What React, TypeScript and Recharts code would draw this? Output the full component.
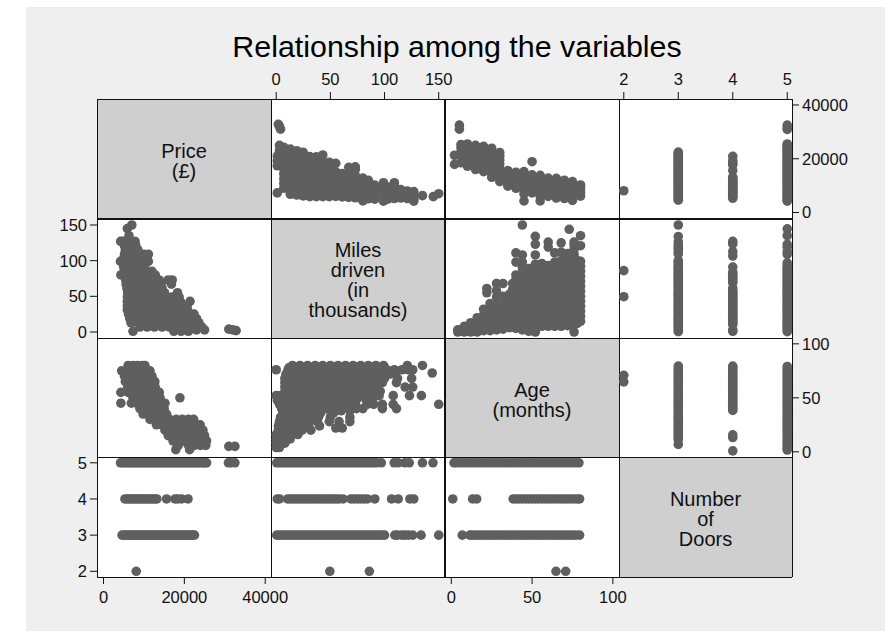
import { ScatterChart, Scatter, XAxis, YAxis } from 'recharts';

const FONT = '"Liberation Sans", Arial, sans-serif';
const DOT = '#5f5f5f';
const DOT_R = 4.8;

// tick labels
const priceTicks = [0, 20000, 40000];
const milesTicks = [0, 50, 100, 150];
const ageTicks = [0, 50, 100];
const doorTicks = [2, 3, 4, 5];

// axis ranges, same for a variable in its row and column except for pixel rounding
const priceXDomain = [-1605, 41430];
const priceYDomain = [-2037, 42220];
const milesXDomain = [-4.8, 155.8];
const milesYDomain = [-8.4, 159.8];
const ageXDomain = [-3.9, 103.8];
const ageYDomain = [-4.8, 105.4];
const doorXDomain = [1.912, 5.087];
const doorYDomain = [1.842, 5.161];

const priceAtMiles: [number, number[]][] = [
  [1, [7300, 17400, 19200, 21000]],
  [2, [32800]],
  [3, [32000, 23000, 25000]],
  [4, [31000]],
  [7, [9000, 10800, 12600, 14500, 16300, 18200, 20100, 22000, 24300]],
  [13, [6800, 8600, 10400, 12300, 14100, 15900, 17800, 19700, 21600, 23600]],
  [19, [6500, 8300, 10100, 12000, 13800, 15700, 17500, 19400, 21300, 23000]],
  [25, [6200, 8100, 9900, 11800, 13600, 15500, 17300, 19200, 21000, 22400]],
  [31, [5900, 7800, 9700, 11500, 13400, 15200, 17100, 19000, 20800]],
  [37, [5900, 7700, 9600, 11400, 13300, 15100, 17000, 18900, 20700]],
  [43, [5900, 7800, 9600, 11500, 13300, 15200, 17000, 19000, 21400]],
  [49, [5900, 7700, 9500, 11300, 13200, 15000, 16900, 18700]],
  [55, [6000, 7800, 9600, 11400, 13300, 15100, 18300]],
  [61, [5800, 7600, 9500, 11300, 13100, 14500]],
  [67, [5600, 7400, 9300, 11100, 13000, 14200, 16800]],
  [73, [5500, 7300, 9200, 11000, 12900, 13800, 16000, 17000]],
  [80, [4300, 5400, 7200, 9000, 10900, 12800]],
  [85, [5100, 6900, 8800, 10500, 12000]],
  [91, [5000, 6800, 8600, 10200]],
  [99, [4200, 4900, 6700, 8500, 9800, 11100]],
  [103, [5000, 6800, 8600, 9500]],
  [109, [5200, 7000, 8800, 10000, 11100]],
  [115, [5400, 7000, 8500]],
  [121, [5200, 6900, 8000]],
  [127, [4250, 4900, 6500, 7800]],
  [135, [6300]],
  [145, [5900]],
  [150, [7000]],
];

const priceAtAge: [number, number[]][] = [
  [80, [6100, 7300, 8500, 9600, 10250]],
  [75, [4500, 6000, 7200, 8400, 9600, 10700, 11500]],
  [70, [5200, 6400, 7600, 8800, 10000, 11200, 12000]],
  [65, [5400, 6700, 7900, 9200, 10400, 11600, 12700]],
  [60, [6000, 7300, 8500, 9800, 11000, 12200, 12800]],
  [55, [4300, 6100, 7400, 8600, 9900, 11100, 12400, 13800]],
  [50, [7300, 8500, 9700, 11000, 12200, 13400, 14000, 18900]],
  [45, [4300, 6900, 8200, 9400, 10600, 11900, 13100, 14400, 15200]],
  [40, [9000, 10300, 11500, 12700, 14000, 15000]],
  [35, [9800, 11000, 12300, 13500, 14800, 15600]],
  [30, [11500, 12700, 14000, 15200, 16400, 18000, 19500, 21000, 22300]],
  [25, [13100, 14500, 15800, 17200, 18500, 19800, 21100, 22600, 23900]],
  [20, [15200, 16600, 18000, 19300, 20700, 22000, 23300, 24600]],
  [15, [16000, 17500, 19000, 20300, 21700, 23000, 24300, 25000]],
  [10, [17200, 18600, 20000, 21500, 22800, 24000, 25500]],
  [6, [18500, 21000, 22500, 24000, 25300]],
  [5, [31000, 32500]],
  [2, [17900, 21300]],
];

const milesAtAge: [number, number[]][] = [
  [80, [15, 22, 29, 36, 43, 50, 57, 64, 71, 78, 85, 92, 99, 121, 135]],
  [78, [12, 20, 30, 40, 52, 62, 74, 86, 100]],
  [76, [0, 11, 18, 25, 32, 39, 46, 53, 60, 67, 74, 81, 88, 95, 102, 109, 116, 122, 126]],
  [73, [144]],
  [72, [9, 16, 23, 30, 37, 44, 51, 58, 65, 72, 79, 86, 93, 100, 105, 110]],
  [68, [8, 15, 22, 29, 36, 43, 50, 57, 64, 71, 78, 85, 92, 100, 112, 125]],
  [64, [8, 15, 22, 29, 36, 43, 50, 57, 64, 71, 78, 85, 92, 98, 111]],
  [60, [8, 15, 22, 29, 36, 43, 50, 57, 64, 71, 78, 85, 93, 119, 126]],
  [56, [8, 15, 22, 29, 36, 43, 50, 57, 64, 71, 78, 85, 90, 96]],
  [52, [0, 4, 9, 16, 23, 30, 37, 44, 51, 58, 65, 72, 79, 89, 95, 108, 123, 134]],
  [48, [1, 4, 11, 18, 25, 32, 39, 46, 53, 60, 67, 74, 83, 89]],
  [44, [3, 10, 17, 24, 31, 38, 45, 52, 59, 66, 73, 84, 90, 98, 108, 150]],
  [40, [5, 12, 19, 26, 33, 40, 47, 54, 61, 68, 74, 80, 98, 111]],
  [38, [7, 15, 24, 33, 42, 52, 60, 68]],
  [36, [6, 13, 20, 27, 34, 41, 51, 53]],
  [32, [4, 11, 18, 25, 32, 39, 50, 68]],
  [28, [3, 10, 17, 24, 31, 38, 49, 58, 68]],
  [24, [2, 9, 16, 23, 30, 40]],
  [22, [55, 61]],
  [20, [2, 9, 16, 24, 32]],
  [16, [0, 6, 13, 20]],
  [12, [0, 6, 13]],
  [8, [0, 4, 8]],
  [4, [0, 3]],
];

// values seen at each number of doors
const priceByDoors: [number, number[]][] = [
  [2, [8100]],
  [3, [4600, 5100, 5600, 6100, 6600, 7100, 7600, 8100, 8600, 9100, 9600, 10100, 10600, 11100, 11600, 12100, 12600, 13100, 13600, 14100, 14600, 15100, 15600, 16100, 16600, 17100, 17600, 18100, 18600, 19100, 19600, 20100, 20600, 21100, 21600, 22000, 22500]],
  [4, [5300, 5800, 6300, 6800, 7300, 7800, 8300, 8800, 9300, 9800, 10300, 10800, 11300, 11800, 12300, 12800, 13200, 15600, 17700, 18400, 19300, 20900]],
  [5, [4200, 4700, 5200, 5700, 6200, 6700, 7200, 7700, 8200, 8700, 9200, 9700, 10200, 10700, 11200, 11700, 12200, 12700, 13200, 13700, 14200, 14700, 15200, 15700, 16200, 16700, 17200, 17700, 18200, 18700, 19200, 19700, 20200, 20700, 21200, 21700, 22200, 22700, 23200, 23700, 24200, 24700, 25100, 25500, 30900, 31500, 32500]],
];
const milesByDoors: [number, number[]][] = [
  [2, [49.5, 86]],
  [3, [0.5, 3, 5.5, 8, 10.5, 13, 15.5, 18, 20.5, 23, 25.5, 28, 30.5, 33, 35.5, 38, 40.5, 43, 45.5, 48, 50.5, 53, 55.5, 58, 60.5, 63, 65.5, 68, 70.5, 73, 75.5, 78, 80.5, 83, 85.5, 88, 90.5, 93, 95.5, 98, 100, 109.5, 112, 116, 119, 122, 126, 133.7, 150]],
  [4, [1, 3, 10.5, 13, 15.5, 18, 20.5, 23, 25.5, 28, 30.5, 33, 35.5, 38, 40.5, 43, 45.5, 48, 50.5, 53, 55.5, 58, 61.6, 69, 72, 75, 78, 81, 84, 91, 106.5, 112.6, 123.4, 127]],
  [5, [0.5, 3, 5.5, 8, 10.5, 13, 15.5, 18, 20.5, 23, 25.5, 28, 30.5, 33, 35.5, 38, 40.5, 43, 45.5, 48, 50.5, 53, 55.5, 58, 60.5, 63, 65.5, 68, 70.5, 73, 75.5, 78, 80.5, 83, 85.5, 88, 90.5, 93, 97, 108.9, 112.6, 118.8, 122.8, 135, 144.7]],
];
const ageByDoors: [number, number[]][] = [
  [2, [64.8, 70.8]],
  [3, [6.8, 11.5, 13, 15, 17, 19, 21, 23, 25, 27, 29, 31, 33, 35, 37, 39, 41, 43, 45, 47, 49, 51, 53, 55, 57, 59, 61, 63, 65, 67, 69, 71, 73, 75, 77, 79.4]],
  [4, [0.9, 13.2, 15.7, 38.3, 40, 42, 44, 46, 48, 50, 52, 54, 56, 58, 60, 62, 64, 66, 68, 70, 72, 74, 76, 78, 79.4]],
  [5, [1.7, 3, 5, 7, 9, 11, 13, 15, 17, 19, 21, 23, 25, 27, 29, 31, 33, 35, 37, 39, 41, 43, 45, 47, 49, 51, 53, 55, 57, 59, 61, 63, 65, 67, 69, 71, 73, 75, 77, 79]],
];

type Row = [number, number[]];
type Pt = { x: number; y: number };

// key goes on x, values on y
const keyOnX = (rows: Row[]): Pt[] => rows.flatMap(([k, vals]) => vals.map((v) => ({ x: k, y: v })));
// values go on x, key on y
const keyOnY = (rows: Row[]): Pt[] => rows.flatMap(([k, vals]) => vals.map((v) => ({ x: v, y: k })));

const colX = [97, 271, 445, 619, 792];
const rowY = [99, 218, 338, 457, 577];
const PAD = 60;
const AXIS_W = 56;
const AXIS_H = 40;

const tickStyle = { fontSize: 16.5, fill: '#111', fontFamily: FONT };

interface PanelProps {
  col: number;
  row: number;
  points: Pt[];
  xDomain: number[];
  yDomain: number[];
  xTicks?: number[];
  xSide?: 'top' | 'bottom';
  yTicks?: number[];
  ySide?: 'left' | 'right';
}

function Panel({ col, row, points, xDomain, yDomain, xTicks, xSide = 'bottom', yTicks, ySide = 'left' }: PanelProps) {
  const w = colX[col + 1] - colX[col];
  const h = rowY[row + 1] - rowY[row];
  const margin = {
    top: PAD - (xTicks && xSide === 'top' ? AXIS_H : 0),
    bottom: PAD - (xTicks && xSide === 'bottom' ? AXIS_H : 0),
    left: PAD - (yTicks && ySide === 'left' ? AXIS_W : 0),
    right: PAD - (yTicks && ySide === 'right' ? AXIS_W : 0),
  };
  return (
    <div style={{ position: 'absolute', left: colX[col] - PAD, top: rowY[row] - PAD }}>
      <ScatterChart width={w + 2 * PAD} height={h + 2 * PAD} margin={margin}>
        <XAxis
          type="number"
          dataKey="x"
          domain={xDomain}
          ticks={xTicks}
          interval={0}
          hide={!xTicks}
          orientation={xSide}
          height={AXIS_H}
          axisLine={false}
          tickSize={7}
          tickMargin={7}
          tickLine={{ stroke: '#111' }}
          tick={tickStyle}
        />
        <YAxis
          type="number"
          dataKey="y"
          domain={yDomain}
          ticks={yTicks}
          interval={0}
          hide={!yTicks}
          orientation={ySide}
          width={AXIS_W}
          axisLine={false}
          tickSize={7}
          tickMargin={3}
          tickLine={{ stroke: '#111' }}
          tick={tickStyle}
        />
        <Scatter
          data={points}
          isAnimationActive={false}
          shape={(p: any) => <circle cx={p.cx} cy={p.cy} r={DOT_R} fill={DOT} />}
        />
      </ScatterChart>
    </div>
  );
}

function Diagonal({ i, lines }: { i: number; lines: string[] }) {
  return (
    <div
      style={{
        position: 'absolute',
        left: colX[i],
        top: rowY[i],
        width: colX[i + 1] - colX[i],
        height: rowY[i + 1] - rowY[i],
        boxSizing: 'border-box',
        paddingTop: 4,
        background: '#cfcfcf',
        display: 'flex',
        flexDirection: 'column',
        justifyContent: 'center',
        alignItems: 'center',
        fontFamily: FONT,
        fontSize: 20,
        lineHeight: '20px',
        color: '#111',
      }}
    >
      {lines.map((l) => (
        <div key={l}>{l}</div>
      ))}
    </div>
  );
}

const line = (left: number, top: number, width: number, height: number) => (
  <div key={`${left}-${top}`} style={{ position: 'absolute', left, top, width, height, background: '#111' }} />
);

export default function App() {
  return (
    <div style={{ position: 'absolute', left: 0, top: 0, width: 887, height: 637, background: '#fff', overflow: 'hidden' }}>
      <div style={{ position: 'absolute', left: 26, top: 7, width: 859, height: 624, background: '#efefef' }} />
      <div
        style={{
          position: 'absolute',
          left: 26,
          width: 862,
          top: 29,
          textAlign: 'center',
          fontFamily: FONT,
          fontSize: 30.4,
          color: '#000',
        }}
      >
        Relationship among the variables
      </div>
      <div style={{ position: 'absolute', left: 97, top: 99, width: 695, height: 478, background: '#fff' }} />

      <Diagonal i={0} lines={['Price', '(£)']} />
      <Diagonal i={1} lines={['Miles', 'driven', '(in', 'thousands)']} />
      <Diagonal i={2} lines={['Age', '(months)']} />
      <Diagonal i={3} lines={['Number', 'of', 'Doors']} />

      {line(97, 99, 695, 1)}
      {line(97, 218, 695, 2)}
      {line(97, 338, 695, 1)}
      {line(97, 457, 695, 1)}
      {line(97, 577, 695, 1)}
      {line(97, 99, 1, 478)}
      {line(271, 99, 1, 478)}
      {line(444, 99, 2, 478)}
      {line(619, 99, 1, 478)}
      {line(792, 99, 1, 478)}

      {/* first row: price on y */}
      <Panel col={1} row={0} points={keyOnX(priceAtMiles)} xDomain={milesXDomain} yDomain={priceYDomain} xTicks={milesTicks} xSide="top" />
      <Panel col={2} row={0} points={keyOnX(priceAtAge)} xDomain={ageXDomain} yDomain={priceYDomain} />
      <Panel col={3} row={0} points={keyOnX(priceByDoors)} xDomain={doorXDomain} yDomain={priceYDomain} xTicks={doorTicks} xSide="top" yTicks={priceTicks} ySide="right" />

      {/* second row: miles on y */}
      <Panel col={0} row={1} points={keyOnY(priceAtMiles)} xDomain={priceXDomain} yDomain={milesYDomain} yTicks={milesTicks} ySide="left" />
      <Panel col={2} row={1} points={keyOnX(milesAtAge)} xDomain={ageXDomain} yDomain={milesYDomain} />
      <Panel col={3} row={1} points={keyOnX(milesByDoors)} xDomain={doorXDomain} yDomain={milesYDomain} />

      {/* third row: age on y */}
      <Panel col={0} row={2} points={keyOnY(priceAtAge)} xDomain={priceXDomain} yDomain={ageYDomain} />
      <Panel col={1} row={2} points={keyOnY(milesAtAge)} xDomain={milesXDomain} yDomain={ageYDomain} />
      <Panel col={3} row={2} points={keyOnX(ageByDoors)} xDomain={doorXDomain} yDomain={ageYDomain} yTicks={ageTicks} ySide="right" />

      {/* last row: doors on y */}
      <Panel col={0} row={3} points={keyOnY(priceByDoors)} xDomain={priceXDomain} yDomain={doorYDomain} xTicks={priceTicks} yTicks={doorTicks} ySide="left" />
      <Panel col={1} row={3} points={keyOnY(milesByDoors)} xDomain={milesXDomain} yDomain={doorYDomain} />
      <Panel col={2} row={3} points={keyOnY(ageByDoors)} xDomain={ageXDomain} yDomain={doorYDomain} xTicks={ageTicks} />
    </div>
  );
}
